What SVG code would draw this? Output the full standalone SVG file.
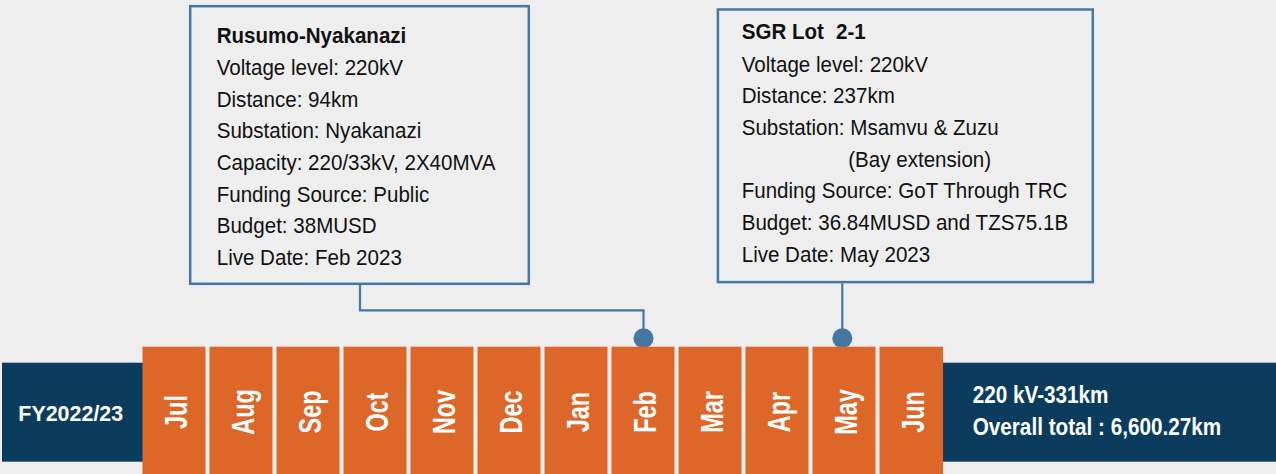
<svg xmlns="http://www.w3.org/2000/svg" width="1276" height="474" viewBox="0 0 1276 474">
<style>
.bg{fill:#EEEEEE}
.band{fill:#0B3C5D}
.mon{fill:#DD6729}
.box{fill:#EEEEEE;stroke:#4577A3;stroke-width:2.5}
.conn{fill:none;stroke:#4577A3;stroke-width:2.2}
.dot{fill:#4577A3}
.ct{font-family:"Liberation Sans",Arial,sans-serif;font-size:22px;fill:#111111}
.ctb{font-weight:bold}
.mt{font-family:"Liberation Sans",Arial,sans-serif;font-size:31px;font-weight:bold;fill:#FFFFFF;text-anchor:middle}
.wt{font-family:"Liberation Sans",Arial,sans-serif;font-size:23px;font-weight:bold;fill:#FFFFFF}
.fy{font-family:"Liberation Sans",Arial,sans-serif;font-size:22px;font-weight:bold;fill:#FFFFFF}
</style>
<rect class="bg" x="0" y="0" width="1276" height="474"/>

<g id="connectors">
<polyline class="conn" points="360,285 360,310.3 643.5,310.3 643.5,336"/>
<line class="conn" x1="842.3" y1="283.3" x2="842.3" y2="336"/>
<circle class="dot" cx="643.5" cy="338.3" r="10"/>
<circle class="dot" cx="842.3" cy="338.3" r="10"/>
</g>

<g id="fy-label">
<rect class="band" x="2" y="362.7" width="141" height="99"/>
<text class="fy" transform="translate(18.3 420.7) scale(0.975 1)" x="0" y="0">FY2022/23</text>
</g>

<g id="total-label">
<rect class="band" x="943" y="362.7" width="333" height="99"/>
<g transform="translate(972.7 0) scale(0.9 1)">
<text class="wt" x="0" y="403.3">220 kV-331km</text>
<text class="wt" x="0" y="435">Overall total : 6,600.27km</text>
</g>
</g>

<g id="months">
<g id="m-jul"><rect class="mon" x="142.5" y="346.7" width="63" height="128"/><text class="mt" transform="translate(186.5 412) rotate(-90) scale(0.755 1)">Jul</text></g>
<g id="m-aug"><rect class="mon" x="209.5" y="346.7" width="63" height="128"/><text class="mt" transform="translate(253.5 412) rotate(-90) scale(0.755 1)">Aug</text></g>
<g id="m-sep"><rect class="mon" x="276.5" y="346.7" width="63" height="128"/><text class="mt" transform="translate(320.5 412) rotate(-90) scale(0.755 1)">Sep</text></g>
<g id="m-oct"><rect class="mon" x="343.5" y="346.7" width="63" height="128"/><text class="mt" transform="translate(387.5 412) rotate(-90) scale(0.755 1)">Oct</text></g>
<g id="m-nov"><rect class="mon" x="410.5" y="346.7" width="63" height="128"/><text class="mt" transform="translate(454.5 412) rotate(-90) scale(0.755 1)">Nov</text></g>
<g id="m-dec"><rect class="mon" x="477.5" y="346.7" width="63" height="128"/><text class="mt" transform="translate(521.5 412) rotate(-90) scale(0.755 1)">Dec</text></g>
<g id="m-jan"><rect class="mon" x="544.5" y="346.7" width="63" height="128"/><text class="mt" transform="translate(588.5 412) rotate(-90) scale(0.755 1)">Jan</text></g>
<g id="m-feb"><rect class="mon" x="611.5" y="346.7" width="63" height="128"/><text class="mt" transform="translate(655.5 412) rotate(-90) scale(0.755 1)">Feb</text></g>
<g id="m-mar"><rect class="mon" x="678.5" y="346.7" width="63" height="128"/><text class="mt" transform="translate(722.5 412) rotate(-90) scale(0.755 1)">Mar</text></g>
<g id="m-apr"><rect class="mon" x="745.5" y="346.7" width="63" height="128"/><text class="mt" transform="translate(789.5 412) rotate(-90) scale(0.755 1)">Apr</text></g>
<g id="m-may"><rect class="mon" x="812.5" y="346.7" width="63" height="128"/><text class="mt" transform="translate(856.5 412) rotate(-90) scale(0.755 1)">May</text></g>
<g id="m-jun"><rect class="mon" x="879.5" y="346.7" width="63.5" height="128"/><text class="mt" transform="translate(923.5 412) rotate(-90) scale(0.755 1)">Jun</text></g>
</g>

<g id="callout-rusumo">
<rect class="box" x="190.2" y="6.2" width="338.6" height="277.6"/>
<g transform="translate(216.7 0) scale(0.935 1)">
<text class="ct ctb" x="0" y="42.7">Rusumo-Nyakanazi</text>
<text class="ct" x="0" y="75">Voltage level: 220kV</text>
<text class="ct" x="0" y="106.7">Distance: 94km</text>
<text class="ct" x="0" y="138.3">Substation: Nyakanazi</text>
<text class="ct" x="0" y="170">Capacity: 220/33kV, 2X40MVA</text>
<text class="ct" x="0" y="201.7">Funding Source: Public</text>
<text class="ct" x="0" y="233.3">Budget: 38MUSD</text>
<text class="ct" x="0" y="265">Live Date: Feb 2023</text>
</g>
</g>

<g id="callout-sgr">
<rect class="box" x="717.9" y="9.5" width="374.9" height="272.6"/>
<g transform="translate(741.7 0) scale(0.935 1)">
<text class="ct ctb" x="0" y="39.3">SGR Lot <tspan x="100.9">2-1</tspan></text>
<text class="ct" x="0" y="71.7">Voltage level: 220kV</text>
<text class="ct" x="0" y="103.3">Distance: 237km</text>
<text class="ct" x="0" y="135">Substation: Msamvu &amp; Zuzu</text>
<text class="ct" x="114" y="166.7">(Bay extension)</text>
<text class="ct" x="0" y="198.3">Funding Source: GoT Through TRC</text>
<text class="ct" x="0" y="230">Budget: 36.84MUSD and TZS75.1B</text>
<text class="ct" x="0" y="261.7">Live Date: May 2023</text>
</g>
</g>
</svg>
